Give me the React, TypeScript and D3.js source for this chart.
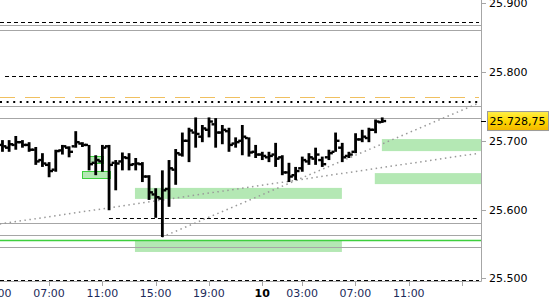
import React from "react";
import * as d3 from "d3";

// ---- data ----
const barStartHour = 3.5; // trading hours since day 9 00:00 (one closed hour in the evening)
const barStepHour = 0.5;
const opens = [25694,25690,25694,25698,25694,25687,25672,25665,25658,25686,25690,25692,25696,25694,25668,25670,25692,25668,25670,25675,25666,25666,25648,25622,25616,25630,25658,25680,25700,25712,25706,25716,25724,25712,25714,25696,25700,25704,25684,25680,25676,25680,25676,25654,25650,25660,25670,25674,25672,25676,25684,25690,25678,25684,25702,25704,25716,25727];
const highs = [25701,25701,25707,25701,25698,25691,25682,25669,25687,25694,25692,25714,25698,25694,25679,25694,25694,25672,25683,25682,25675,25669,25650,25631,25657,25672,25688,25712,25719,25734,25723,25734,25733,25723,25719,25705,25723,25705,25694,25684,25684,25697,25679,25668,25662,25677,25682,25690,25677,25687,25712,25697,25684,25711,25716,25719,25731,25734];
const lows = [25684,25684,25687,25690,25684,25665,25662,25647,25655,25680,25676,25690,25691,25657,25650,25655,25599,25628,25657,25657,25657,25640,25614,25588,25560,25604,25636,25677,25669,25690,25698,25705,25690,25695,25684,25690,25679,25677,25675,25672,25669,25662,25650,25640,25643,25655,25665,25665,25662,25672,25684,25669,25675,25682,25698,25698,25711,25726];
const closes = [25692,25695,25698,25694,25687,25670,25667,25656,25685,25692,25684,25698,25694,25666,25672,25690,25665,25667,25676,25665,25667,25648,25625,25618,25628,25660,25682,25700,25715,25710,25718,25728,25712,25716,25694,25698,25706,25683,25680,25678,25678,25674,25654,25648,25656,25672,25676,25680,25666,25682,25700,25676,25680,25702,25706,25716,25728,25728.75];

const lastPrice = 25728.75;
const lastPriceLabel = "25.728,75";

const yTicks = [25500, 25600, 25700, 25800, 25900];
const yTickLabels = ["25.500", "25.600", "25.700", "25.800", "25.900"];

const xTickHours = [3, 7, 11, 15, 19, 23, 26, 30, 34, 38];
const xTickLabels = ["03:00", "07:00", "11:00", "15:00", "19:00", "10", "03:00", "07:00", "11:00", ""];
const xTickBold = [false, false, false, false, false, true, false, false, false, false];

const grayLevels = [25868.4, 25860.7, 25750.2, 25733.2, 25580, 25562.5, 25545.1];
const dashedLevels = [25872.4, 25793.8, 25587.3, 25497.1];
const dashedStartHours = [0, 3.7, 11.5, 0];
const orangeLevel = 25763.3;
const dottedLevel = 25756.9;
const greenLevel = 25555.3;

// zones
const zoneStart = [13.45, 13.45, 31.45, 31.98];
const zoneEnd = [28.98, 28.98, 45, 45];
const zoneTop = [25631.5, 25555.7, 25653, 25702.5];
const zoneBottom = [25615.5, 25538.3, 25637, 25685];

const boxStart = [10.0, 9.48];
const boxEnd = [11.05, 11.58];
const boxTop = [25678, 25656];
const boxBottom = [25668, 25646];

// trend lines
const trendH1 = [3.3, 15.48];
const trendP1 = [25579, 25560];
const trendH2 = [39.3, 39.1];
const trendP2 = [25682, 25753.6];

export default function App() {
  const plotRight = 481;
  const plotBottom = 281;
  const y = d3.scaleLinear().domain([25500, 25900]).range([278.3, 3.3]);
  const x = d3.scaleLinear().domain([7, 11]).range([49, 102.3]);
  const font = "'DejaVu Sans', Verdana, sans-serif";
  const gray = "#a6a6a6";

  const bars = opens.map((o, i) => ({
    h: barStartHour + barStepHour * i,
    o,
    hi: highs[i],
    lo: lows[i],
    c: closes[i],
  }));

  return (
    <svg
      width={550}
      height={300}
      style={{ position: "absolute", left: 0, top: 0, background: "#fff" }}
      fontFamily={font}
    >
      <defs>
        <clipPath id="plot">
          <rect x={0} y={0} width={plotRight} height={plotBottom} />
        </clipPath>
        <linearGradient id="lbl" x1="0" y1="0" x2="0" y2="1">
          <stop offset="0" stopColor="#fff04a" />
          <stop offset="0.5" stopColor="#ffd800" />
          <stop offset="1" stopColor="#f2b600" />
        </linearGradient>
      </defs>
      <rect x={0} y={0} width={550} height={300} fill="#fff" />
      <g clipPath="url(#plot)">
        {zoneStart.map((s, i) => (
          <rect
            key={"z" + i}
            x={x(s)}
            y={y(zoneTop[i])}
            width={x(zoneEnd[i]) - x(s)}
            height={y(zoneBottom[i]) - y(zoneTop[i])}
            fill="#b4e8b4"
          />
        ))}
        {grayLevels.map((v, i) => (
          <line key={"g" + i} x1={0} x2={plotRight} y1={Math.round(y(v)) + 0.5} y2={Math.round(y(v)) + 0.5} stroke={gray} strokeWidth={1} />
        ))}
        <line x1={0} x2={plotRight} y1={Math.round(y(greenLevel)) + 0.5} y2={Math.round(y(greenLevel)) + 0.5} stroke="#3ecf3e" strokeWidth={1.3} />
        {dashedLevels.map((v, i) => (
          <line
            key={"d" + i}
            x1={Math.max(0, x(dashedStartHours[i]))}
            x2={plotRight - 2}
            y1={Math.round(y(v)) + 0.5}
            y2={Math.round(y(v)) + 0.5}
            stroke="#000"
            strokeWidth={1}
            strokeDasharray="4 3"
          />
        ))}
        <line x1={0} x2={plotRight - 2} y1={Math.round(y(orangeLevel)) + 0.5} y2={Math.round(y(orangeLevel)) + 0.5} stroke="#f0c060" strokeWidth={1} strokeDasharray="15 10" />
        <line x1={0} x2={plotRight - 3} y1={Math.round(y(dottedLevel))} y2={Math.round(y(dottedLevel))} stroke="#000" strokeWidth={2} strokeDasharray="2 4.6" />
        {trendH1.map((h, i) => (
          <line
            key={"t" + i}
            x1={x(h)}
            y1={y(trendP1[i])}
            x2={x(trendH2[i])}
            y2={y(trendP2[i])}
            stroke="#999"
            strokeWidth={1.5}
            strokeDasharray="1.5 3.5"
          />
        ))}
        {boxStart.map((s, i) => (
          <rect
            key={"b" + i}
            x={Math.round(x(s)) + 0.5}
            y={Math.round(y(boxTop[i])) + 0.5}
            width={Math.round(x(boxEnd[i]) - x(s))}
            height={Math.round(y(boxBottom[i]) - y(boxTop[i]))}
            fill="#b4e8b4"
            stroke="#3ecf3e"
            strokeWidth={1}
          />
        ))}
        {bars.map((b, i) => {
          const cx = x(b.h);
          return (
            <g key={"bar" + i} fill="#000">
              <rect x={cx - 1.3} y={y(b.hi)} width={2.8} height={Math.max(1, y(b.lo) - y(b.hi))} />
              <rect x={cx - 4} y={y(b.o) - 1.2} width={3} height={2.4} />
              <rect x={cx + 1} y={y(b.c) - 1.2} width={3} height={2.4} />
            </g>
          );
        })}
      </g>
      {/* axes */}
      <line x1={plotRight + 0.5} x2={plotRight + 0.5} y1={0} y2={plotBottom + 0.5} stroke={gray} />
      <line x1={0} x2={plotRight + 0.5} y1={plotBottom + 0.5} y2={plotBottom + 0.5} stroke={gray} />
      {yTicks.map((v, i) => (
        <g key={"yt" + i}>
          <line x1={plotRight} x2={plotRight + 5} y1={Math.round(y(v)) + 0.5} y2={Math.round(y(v)) + 0.5} stroke={gray} />
          <text x={489} y={y(v) + 4} fontSize={11} fill="#000">
            {yTickLabels[i]}
          </text>
        </g>
      ))}
      {xTickHours.map((h, i) => (
        <g key={"xt" + i}>
          <line x1={Math.round(x(h)) + 0.5} x2={Math.round(x(h)) + 0.5} y1={plotBottom} y2={plotBottom + 5} stroke={gray} />
          <text
            x={x(h)}
            y={297}
            fontSize={11}
            textAnchor="middle"
            fontWeight={xTickBold[i] ? "bold" : "normal"}
            fill={xTickBold[i] ? "#000" : "#1c2a5a"}
          >
            {xTickLabels[i]}
          </text>
        </g>
      ))}
      {/* last price marker */}
      <line x1={plotRight} x2={plotRight + 5} y1={Math.round(y(lastPrice)) + 0.5} y2={Math.round(y(lastPrice)) + 0.5} stroke="#000" />
      <rect x={487.5} y={y(lastPrice) - 9.5} width={61} height={19} fill="url(#lbl)" stroke="#9a9a9a" />
      <text x={489.5} y={y(lastPrice) + 4} fontSize={11} fill="#000">
        {lastPriceLabel}
      </text>
    </svg>
  );
}
